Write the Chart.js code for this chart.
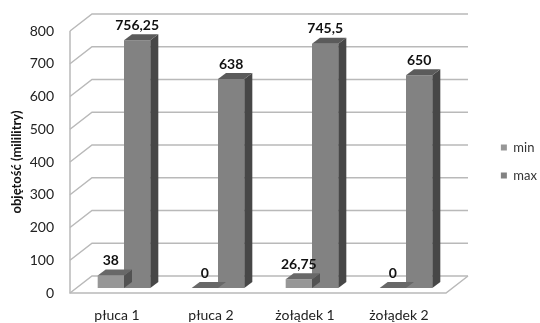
<!DOCTYPE html>
<html>
<head>
<meta charset="utf-8">
<script src="https://cdn.jsdelivr.net/npm/chart.js@4.4.1/dist/chart.umd.min.js"></script>
<style>
  html, body { margin: 0; padding: 0; background: #ffffff; }
  #wrap { width: 540px; height: 323px; }
</style>
</head>
<body>
<div id="wrap"><canvas id="c" width="540" height="323"></canvas></div>
<script>
// Organ volumes: minimum and maximum per sample
const categories = ['płuca 1', 'płuca 2', 'żołądek 1', 'żołądek 2'];
const seriesNames = ['min', 'max'];
const minValues = [38, 0, 26.75, 0];
const maxValues = [756.25, 638, 745.5, 650];
const yTicks = [0, 100, 200, 300, 400, 500, 600, 700, 800];
const yTitle = 'objętość (mililitry)';

// Pseudo-3D geometry (pixels)
const WALL = { x: 22, y: -17 };     // depth of back wall from front plane
const SHIFT = { x: 7, y: -5 };      // plane in which the column fronts sit
const DEPTH = { x: 8, y: -6 };      // column depth
const FONT = 'Lato, "Open Sans", "DejaVu Sans", sans-serif';
const RIGHT_PAD = -7;
const PLOT_RIGHT = 446;

const frontColors = ['#979797', '#828282'];
const topColors = ['#686868', '#5b5b5b'];
const sideColors = ['#525252', '#474747'];

function fmt(v) { return String(v).replace('.', ','); }

const columns3d = {
  id: 'columns3d',
  beforeDatasetsDraw(chart) {
    const { ctx, chartArea: a, scales: { y } } = chart;
    ctx.save();
    ctx.strokeStyle = '#b9b9b9';
    ctx.lineWidth = 1.5;
    // side-wall diagonals and back-wall gridlines
    yTicks.forEach(v => {
      const py = y.getPixelForValue(v);
      ctx.beginPath();
      ctx.moveTo(a.left, py);
      ctx.lineTo(a.left + WALL.x, py + WALL.y);
      ctx.lineTo(a.right + WALL.x, py + WALL.y);
      ctx.stroke();
    });
    // front value axis and floor edges
    ctx.beginPath();
    ctx.moveTo(a.left, a.top);
    ctx.lineTo(a.left, a.bottom);
    ctx.lineTo(a.right, a.bottom);
    ctx.lineTo(a.right + WALL.x, a.bottom + WALL.y);
    ctx.stroke();
    ctx.restore();

    ctx.save();
    ctx.translate(SHIFT.x, SHIFT.y);
  },
  afterDatasetDraw(chart, args) {
    const { ctx } = chart;
    const i = args.index;
    args.meta.data.forEach(bar => {
      const { x, y, width, base } = bar.getProps(['x', 'y', 'width', 'base'], true);
      const l = x - width / 2, r = x + width / 2;
      ctx.fillStyle = sideColors[i];
      ctx.beginPath();
      ctx.moveTo(r, y);
      ctx.lineTo(r + DEPTH.x, y + DEPTH.y);
      ctx.lineTo(r + DEPTH.x, base + DEPTH.y);
      ctx.lineTo(r, base);
      ctx.closePath();
      ctx.fill();
      ctx.fillStyle = topColors[i];
      ctx.beginPath();
      ctx.moveTo(l, y);
      ctx.lineTo(l + DEPTH.x, y + DEPTH.y);
      ctx.lineTo(r + DEPTH.x, y + DEPTH.y);
      ctx.lineTo(r, y);
      ctx.closePath();
      ctx.fill();
    });
  },
  afterDatasetsDraw(chart) {
    const { ctx } = chart;
    ctx.font = 'bold 14px ' + FONT;
    ctx.fillStyle = '#111111';
    ctx.textAlign = 'center';
    ctx.textBaseline = 'middle';
    chart.data.datasets.forEach((ds, i) => {
      chart.getDatasetMeta(i).data.forEach((bar, j) => {
        const { x, y } = bar.getProps(['x', 'y'], true);
        ctx.fillText(fmt(ds.data[j]), x, y - 15);
      });
    });
    ctx.restore();
  }
};

new Chart(document.getElementById('c'), {
  type: 'bar',
  data: {
    labels: categories,
    datasets: [
      { label: seriesNames[0], data: minValues, backgroundColor: frontColors[0] },
      { label: seriesNames[1], data: maxValues, backgroundColor: frontColors[1] }
    ]
  },
  plugins: [columns3d],
  options: {
    responsive: false,
    animation: false,
    devicePixelRatio: 1,
    categoryPercentage: 0.56,
    barPercentage: 1,
    layout: { padding: { left: 0, top: 0, bottom: 0, right: RIGHT_PAD } },
    plugins: {
      legend: {
        position: 'right',
        align: 'center',
        labels: {
          boxWidth: 6, boxHeight: 6, padding: 15,
          color: '#333333',
          font: { family: FONT, size: 13 }
        }
      },
      tooltip: { enabled: false }
    },
    scales: {
      x: {
        grid: { display: false, drawTicks: false },
        border: { display: false },
        ticks: { color: '#222222', padding: 14, font: { family: FONT, size: 14 } },
        afterFit: s => { s.height = 30; }
      },
      y: {
        min: 0, max: 800,
        grid: { display: false, drawTicks: false },
        border: { display: false },
        afterBuildTicks: s => { s.ticks = yTicks.map(v => ({ value: v })); },
        ticks: { color: '#222222', padding: 16, font: { family: FONT, size: 14 } },
        title: {
          display: true, text: yTitle, color: '#111111',
          padding: { top: 9, bottom: 0 },
          font: { family: FONT, size: 13, weight: 'bold' }
        },
        afterFit: s => { s.width = 70; }
      },
      xTop: {
        type: 'linear', position: 'top', axis: 'x',
        grid: { display: false }, border: { display: false },
        ticks: { display: false },
        afterFit: s => { s.height = 31; }
      },
      yRight: {
        type: 'linear', position: 'right', axis: 'y',
        grid: { display: false }, border: { display: false },
        ticks: { display: false },
        afterFit: s => {
          const lw = s.chart.legend ? s.chart.legend.width : 65;
          s.width = Math.max(0, s.chart.width - RIGHT_PAD - lw - PLOT_RIGHT);
        }
      }
    }
  }
});
</script>
</body>
</html>
